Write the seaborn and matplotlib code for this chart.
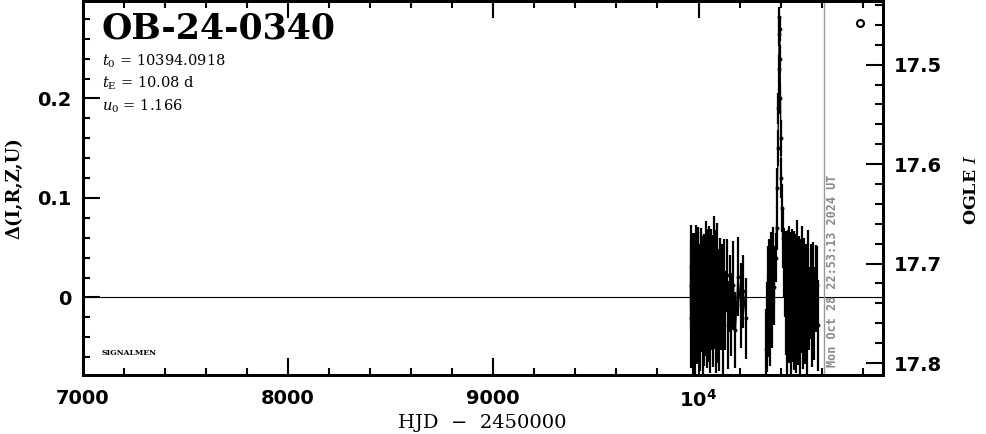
import matplotlib
matplotlib.use("Agg")
import matplotlib.pyplot as plt
import seaborn as sns
import numpy as np
import pandas as pd
from matplotlib.ticker import MultipleLocator

# ---------------- data ----------------
hjd_s1 = [9961, 9963, 9965, 9967, 9969, 9971, 9973, 9976, 9978, 9980, 9983, 9985, 9988,
          9990, 9993, 9996, 9999, 10002, 10005, 10008, 10011, 10014, 10017, 10020, 10023,
          10026, 10029, 10032, 10035, 10038, 10041, 10044, 10047, 10050, 10053, 10056,
          10059, 10062, 10065, 10068, 10071, 10074, 10077, 10080, 10083, 10086, 10089,
          10092, 10095, 10099, 10103, 10108, 10113, 10118, 10124, 10130, 10137, 10145,
          10152, 10160, 10170, 10180, 10192, 10205, 10218, 10232]
dmag_s1 = [0.012, -0.021, 0.031, -0.008, 0.004, -0.034, 0.018, 0.025, -0.015, 0.002,
           -0.041, 0.015, 0.028, -0.012, -0.026, 0.009, 0.021, -0.018, 0.006, -0.032,
           0.014, 0.024, -0.006, -0.038, 0.011, 0.019, -0.022, 0.003, 0.033, -0.011,
           -0.029, 0.016, 0.007, -0.016, 0.027, -0.035, 0.001, 0.022, -0.009, 0.013,
           -0.027, 0.036, -0.004, 0.017, -0.031, 0.008, 0.026, -0.019, 0.005, -0.024,
           0.019, -0.007, 0.011, -0.036, 0.014, -0.013, 0.023, -0.028, 0.004, -0.017,
           0.012, -0.033, 0.021, -0.008, 0.006, -0.021]
err_s1 = [0.045, 0.050, 0.042, 0.048, 0.052, 0.044, 0.047, 0.040, 0.051, 0.046,
          0.043, 0.049, 0.045, 0.053, 0.041, 0.047, 0.050, 0.044, 0.048, 0.042,
          0.052, 0.046, 0.049, 0.043, 0.051, 0.045, 0.047, 0.050, 0.044, 0.048,
          0.042, 0.053, 0.046, 0.049, 0.045, 0.041, 0.052, 0.047, 0.044, 0.050,
          0.043, 0.046, 0.048, 0.051, 0.045, 0.042, 0.049, 0.047, 0.044, 0.050,
          0.041, 0.046, 0.043, 0.048, 0.045, 0.040, 0.036, 0.044, 0.039, 0.042,
          0.045, 0.038, 0.040, 0.043, 0.037, 0.041]

hjd_s2 = [10329, 10332, 10336, 10340, 10345, 10350, 10355, 10359, 10363, 10366,
          10370, 10376, 10380, 10384, 10387, 10389, 10391, 10393, 10394, 10395,
          10397, 10399, 10401, 10403, 10406, 10410, 10415, 10420,
          10424, 10428, 10431, 10434, 10437, 10440, 10443, 10446, 10449, 10452,
          10455, 10458, 10461, 10464, 10467, 10470, 10473, 10476, 10479, 10482,
          10485, 10488, 10491, 10494, 10497, 10500, 10504, 10508, 10512, 10516,
          10520, 10525, 10530, 10535, 10540, 10546, 10552, 10558, 10564, 10570,
          10576, 10582]
dmag_s2 = [-0.052, -0.030, 0.004, -0.018, 0.012, -0.025, 0.020, -0.008, 0.030, 0.010,
           0.022, 0.040, 0.070, 0.110, 0.150, 0.190, 0.230, 0.265, 0.282, 0.270,
           0.240, 0.200, 0.160, 0.120, 0.090, 0.060, 0.035, 0.020,
           -0.012, 0.024, -0.031, 0.009, 0.018, -0.022, 0.031, -0.006, -0.037, 0.014,
           0.026, -0.018, 0.004, -0.029, 0.021, 0.011, -0.034, 0.016, -0.009, 0.027,
           -0.024, 0.007, 0.019, -0.039, 0.013, -0.014, 0.024, -0.027, 0.002, 0.017,
           -0.020, 0.010, -0.031, 0.022, -0.011, 0.006, -0.025, 0.015, -0.016, 0.009,
           0.012, -0.028]
err_s2 = [0.040, 0.045, 0.048, 0.042, 0.047, 0.044, 0.046, 0.043, 0.041, 0.038,
          0.030, 0.025, 0.022, 0.020, 0.018, 0.016, 0.014, 0.012, 0.010, 0.012,
          0.014, 0.016, 0.018, 0.020, 0.024, 0.030, 0.035, 0.040,
          0.046, 0.043, 0.049, 0.045, 0.050, 0.044, 0.041, 0.048, 0.046, 0.052,
          0.043, 0.047, 0.050, 0.044, 0.046, 0.049, 0.042, 0.048, 0.045, 0.051,
          0.044, 0.047, 0.043, 0.049, 0.046, 0.042, 0.048, 0.045, 0.050, 0.043,
          0.047, 0.044, 0.049, 0.046, 0.042, 0.048, 0.045, 0.041, 0.047, 0.044,
          0.040, 0.046]

baseline_I = 17.734
date_line = 10612.45
xtick_vals = [7000, 8000, 9000, 10000]
xtick_labels = ["7000", "8000", "9000", r"$\mathbf{10^4}$"]
event_name = "OB-24-0340"
params = [r"$t_0$ = 10394.0918", r"$t_{\rm E}$ = 10.08 d", r"$u_0$ = 1.166"]
date_text = "Mon Oct 28 22:53:13 2024 UT"

df = pd.DataFrame({
    "hjd": hjd_s1 + hjd_s2,
    "dmag": dmag_s1 + dmag_s2,
    "err": err_s1 + err_s2,
    "season": ["2023"] * len(hjd_s1) + ["2024"] * len(hjd_s2),
})

# ---------------- figure ----------------
sns.set_theme(style="ticks")
plt.rcParams["font.family"] = ["DejaVu Sans"]
plt.rcParams["mathtext.fontset"] = "custom"
plt.rcParams["mathtext.rm"] = "DejaVu Serif"
plt.rcParams["mathtext.it"] = "DejaVu Serif:italic"
plt.rcParams["mathtext.bf"] = "DejaVu Sans:bold"
plt.rcParams["mathtext.bfit"] = "DejaVu Serif:italic:bold"
plt.rcParams["text.color"] = "black"
plt.rcParams["axes.labelcolor"] = "black"
plt.rcParams["xtick.color"] = "black"
plt.rcParams["ytick.color"] = "black"
plt.rcParams["axes.edgecolor"] = "black"

fig = plt.figure(figsize=(9.86, 4.34), dpi=100)
ax = fig.add_axes([0.0839, 0.1348, 0.8113, 0.8629])

ax.axhline(0, color="black", lw=0.8, zorder=1)
ax.axvline(date_line, color="#999999", lw=1.0, zorder=1)

ax.errorbar(df["hjd"], df["dmag"], yerr=df["err"], fmt="none", ecolor="black",
            elinewidth=1.6, capsize=0, zorder=2)
sns.lineplot(data=df, x="hjd", y="dmag", units="season", estimator=None, ax=ax,
             color="black", lw=1.0, sort=True, zorder=2, legend=False)
sns.scatterplot(data=df, x="hjd", y="dmag", ax=ax, color="black", s=8,
                edgecolor="black", linewidth=0, zorder=3, legend=False)

# open circle marker at top right
ax.plot([10786], [0.276], marker="o", ms=5, mfc="white", mec="black", mew=1.5,
        ls="none", zorder=4)

ax.set_xlim(7000, 10897)
ax.set_ylim(-0.0785, 0.298)

ax.set_xticks(xtick_vals)
ax.set_xticklabels(xtick_labels)
ax.xaxis.set_minor_locator(MultipleLocator(200))
ax.yaxis.set_minor_locator(MultipleLocator(0.02))
ax.set_yticks([0, 0.1, 0.2])
ax.set_yticklabels(["0", "0.1", "0.2"])

ax.tick_params(axis="x", which="both", direction="in", top=True, bottom=True,
               labelsize=14, pad=10, width=1.5)
ax.tick_params(axis="y", which="both", direction="in", left=True, right=False,
               labelsize=14, pad=8, width=1.5)
ax.tick_params(which="major", length=12)
ax.tick_params(which="minor", length=5)
for lab in ax.get_xticklabels() + ax.get_yticklabels():
    lab.set_fontweight("bold")

for sp in ax.spines.values():
    sp.set_linewidth(2)
    sp.set_color("black")
    sp.set_visible(True)

ax.set_xlabel("HJD  \u2212  2450000", fontsize=14, family="DejaVu Serif",
              labelpad=2)
ax.set_ylabel("\u0394(I,R,Z,U)", fontsize=13, family="DejaVu Serif",
              fontweight="bold", labelpad=10)

# right axis: OGLE I magnitude
ax2 = ax.twinx()
ax2.set_ylim(baseline_I + 0.0785, baseline_I - 0.298)
ax2.yaxis.set_minor_locator(MultipleLocator(0.02))
ax2.tick_params(axis="y", which="both", direction="in", right=True, left=False,
                labelsize=14, pad=8, width=1.5)
ax2.tick_params(which="major", length=12)
ax2.tick_params(which="minor", length=6)
ax2.set_yticks([17.5, 17.6, 17.7, 17.8])
ax2.set_yticklabels(["17.5", "17.6", "17.7", "17.8"])
for lab in ax2.get_yticklabels():
    lab.set_fontweight("bold")
for sp in ax2.spines.values():
    sp.set_linewidth(2)
fig.text(972 / 986, 1 - 190 / 434, r"OGLE $\mathit{I}$", fontsize=12.5,
         family="DejaVu Serif", fontweight="bold", rotation=90,
         ha="center", va="center")

# texts
ax.text(0.024, 0.972, event_name, transform=ax.transAxes, fontsize=25,
        family="DejaVu Serif", fontweight="bold", va="top", ha="left")
for i, p in enumerate(params):
    ax.text(0.024, 0.84 - i * 0.06, p, transform=ax.transAxes, fontsize=10.5,
            family="DejaVu Serif", va="center", ha="left")
ax.text(0.024, 0.06, "SIGNALMEN", transform=ax.transAxes, fontsize=5.5,
        family="DejaVu Serif", fontweight="bold", va="center", ha="left")
ax.text(date_line + 40, -0.07, date_text, rotation=90, fontsize=8.5,
        family="DejaVu Sans Mono", fontweight="bold", color="#888888",
        va="bottom", ha="center")

fig.savefig("out.png", dpi=100)
